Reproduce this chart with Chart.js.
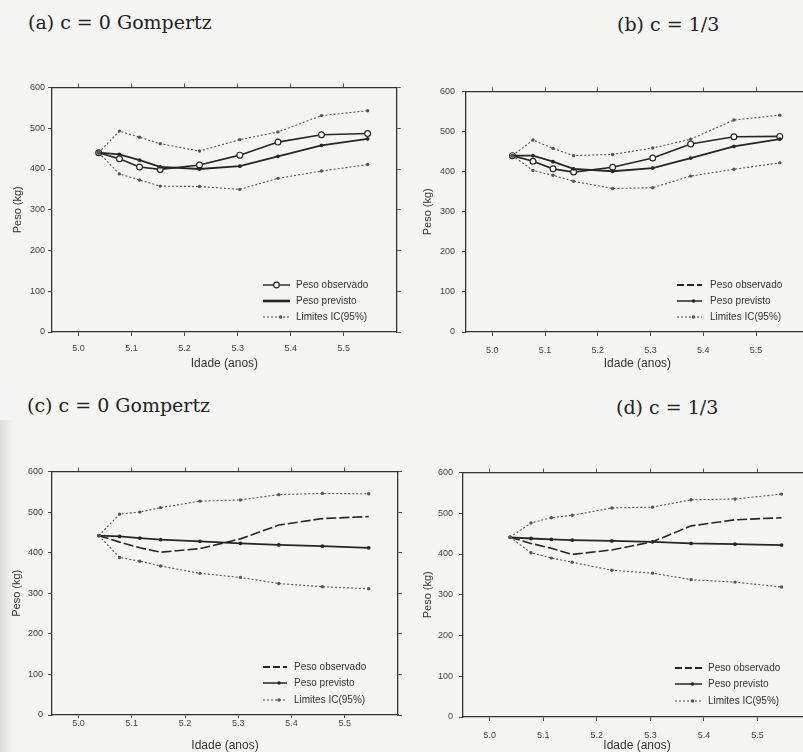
<!DOCTYPE html>
<html>
<head>
<meta charset="utf-8">
<script src="https://cdn.jsdelivr.net/npm/chart.js@4"></script>
<style>
  html, body { margin: 0; padding: 0; }
  body { width: 803px; height: 752px; overflow: hidden; position: relative; background: #f5f5f3; }
  .panel { position: absolute; }
  .ttl { position: absolute; font-family: "DejaVu Serif", serif; font-size: 19px; color: #222; white-space: nowrap; line-height: 1; }
  .shade { position: absolute; left: 0; top: 420px; width: 14px; height: 332px; background: linear-gradient(to right, #dcdcda, rgba(245,245,243,0)); }
</style>
</head>
<body>
<div class="shade"></div>
<div class="ttl" style="left:28px;top:13px">(a) c = 0 Gompertz</div>
<div class="ttl" style="left:617px;top:15px">(b) c = 1/3</div>
<div class="ttl" style="left:27px;top:396px">(c) c = 0 Gompertz</div>
<div class="ttl" style="left:616px;top:398px">(d) c = 1/3</div>

<div class="panel" style="left:0px;top:80px;width:402px;height:290px"><canvas id="ca"></canvas></div>
<div class="panel" style="left:415px;top:80px;width:399px;height:290px"><canvas id="cb"></canvas></div>
<div class="panel" style="left:0px;top:462px;width:402px;height:290px"><canvas id="cc"></canvas></div>
<div class="panel" style="left:412px;top:462px;width:403px;height:290px"><canvas id="cd"></canvas></div>

<script>
// ages (years) at each weighing
const ages = [5.038, 5.077, 5.115, 5.154, 5.228, 5.304, 5.376, 5.458, 5.545];
const xTicks = [5.0, 5.1, 5.2, 5.3, 5.4, 5.5];
const yTicks = [0, 100, 200, 300, 400, 500, 600];
const legendLabels = ['Peso observado', 'Peso previsto', 'Limites IC(95%)'];

// (a) c = 0 Gompertz
const obsA  = [440, 425, 405, 399, 410, 434, 466, 484, 487];
const predA = [440, 436, 422, 405, 400, 407, 431, 458, 474];
const upA   = [440, 493, 478, 462, 444, 472, 491, 531, 543];
const lowA  = [440, 388, 373, 358, 357, 350, 377, 395, 411];

// (b) c = 1/3
const obsB  = [440, 426, 407, 399, 411, 434, 469, 487, 488];
const predB = [440, 440, 425, 407, 401, 409, 434, 463, 481];
const upB   = [440, 479, 458, 440, 443, 459, 481, 529, 541];
const lowB  = [440, 403, 391, 376, 358, 360, 389, 406, 422];

// (c) c = 0 Gompertz
const obsC  = [442, 426, 412, 401, 410, 434, 468, 484, 489];
const predC = [442, 440, 436, 432, 428, 423, 419, 416, 412];
const upC   = [442, 495, 500, 511, 527, 530, 543, 546, 545];
const lowC  = [442, 388, 379, 367, 349, 339, 324, 316, 311];

// (d) c = 1/3
const obsD  = [441, 426, 414, 399, 410, 430, 469, 484, 489];
const predD = [441, 438, 436, 434, 432, 430, 426, 424, 422];
const upD   = [441, 476, 489, 495, 513, 515, 533, 535, 547];
const lowD  = [441, 403, 390, 380, 360, 353, 337, 331, 319];

const INK = '#262626';
const CI = '#555';
const FONT = '"Liberation Sans", Arial, sans-serif';

// legend drawn inside the plot area, bottom right
const boxLegend = {
  id: 'boxLegend',
  afterDraw(chart, args, o) {
    if (!o || !o.items) return;
    const ctx = chart.ctx;
    ctx.save();
    o.items.forEach((it, i) => {
      const y = o.rows[i];
      ctx.strokeStyle = it.color;
      ctx.lineWidth = it.width;
      ctx.setLineDash(it.dash || []);
      ctx.beginPath();
      ctx.moveTo(o.sx, y);
      ctx.lineTo(o.sx + o.sw, y);
      ctx.stroke();
      ctx.setLineDash([]);
      const mx = o.sx + o.sw / 2;
      if (it.marker === 'open') {
        ctx.fillStyle = '#fff';
        ctx.lineWidth = 1.2;
        ctx.beginPath(); ctx.arc(mx, y, 2.8, 0, Math.PI * 2); ctx.fill(); ctx.stroke();
      } else if (it.marker === 'dot') {
        ctx.fillStyle = it.color;
        ctx.beginPath(); ctx.arc(mx + 4, y, 1.8, 0, Math.PI * 2); ctx.fill();
      }
      ctx.fillStyle = '#333';
      ctx.font = '10px ' + FONT;
      ctx.textBaseline = 'middle';
      ctx.fillText(legendLabels[i], o.tx, y);
    });
    ctx.restore();
  }
};

function pts(vals) {
  return ages.map((a, i) => ({ x: a, y: vals[i] }));
}

function setTicks(vals) {
  return s => { s.ticks = vals.map(v => ({ value: v })); };
}

function makePanel(id, obs, pred, up, low, g) {
  const ciStyle = {
    borderColor: CI, backgroundColor: CI, borderWidth: 1.1, borderDash: [2, 2],
    pointRadius: 1.7, pointBorderWidth: 0, pointBackgroundColor: CI
  };
  const obsStyle = g.circles
    ? { borderColor: INK, borderWidth: 1.6, pointRadius: 2.9, pointBackgroundColor: '#fff', pointBorderColor: INK, pointBorderWidth: 1.2 }
    : { borderColor: INK, borderWidth: 1.6, borderDash: [10, 3], pointRadius: 0 };

  new Chart(document.getElementById(id), {
    type: 'line',
    data: {
      datasets: [
        Object.assign({ label: 'up', data: pts(up) }, ciStyle),
        Object.assign({ label: 'low', data: pts(low) }, ciStyle),
        { label: legendLabels[1], data: pts(pred), borderColor: INK, borderWidth: 1.8,
          pointRadius: 1.9, pointBorderWidth: 0, pointBackgroundColor: INK },
        Object.assign({ label: legendLabels[0], data: pts(obs) }, obsStyle)
      ]
    },
    options: {
      responsive: true,
      maintainAspectRatio: false,
      animation: false,
      layout: { padding: 0 },
      elements: { line: { tension: 0 } },
      plugins: {
        legend: { display: false },
        tooltip: { enabled: false },
        boxLegend: g.legend
      },
      scales: {
        x: {
          type: 'linear', position: 'bottom', min: 4.95, max: 5.6,
          afterBuildTicks: setTicks(xTicks),
          afterFit: s => { s.height = g.bottomH; },
          grid: { drawOnChartArea: false, tickLength: g.xTl, color: '#444' },
          border: { color: '#333', width: 1.3 },
          ticks: { padding: g.xPad, color: '#444', font: { size: 9, family: FONT }, maxRotation: 0, autoSkip: false,
                   callback: v => Number(v).toFixed(1) },
          title: { display: true, text: 'Idade (anos)', color: '#333', font: { size: 12, family: FONT, lineHeight: 1 },
                   padding: { top: g.xtPad, bottom: 0 } }
        },
        y: {
          type: 'linear', position: 'left', min: 0, max: 600,
          afterBuildTicks: setTicks(yTicks),
          afterFit: s => { s.width = g.yW; },
          grid: { drawOnChartArea: false, tickLength: 4, color: '#444' },
          border: { color: '#333', width: 1.3 },
          ticks: { padding: g.yPad, color: '#444', font: { size: 9, family: FONT, lineHeight: 1 } },
          title: { display: true, text: 'Peso (kg)', color: '#333', font: { size: 11, family: FONT, lineHeight: 1 },
                   padding: { top: g.ytPad, bottom: 0 } }
        },
        x2: {
          type: 'linear', position: 'top', min: 4.95, max: 5.6,
          afterBuildTicks: setTicks(xTicks),
          afterFit: s => { s.height = g.topH; },
          grid: { drawOnChartArea: false, tickLength: 4, color: '#555' },
          border: { color: '#333', width: 1.3 },
          ticks: { display: false }
        },
        y2: {
          type: 'linear', position: 'right', min: 0, max: 600,
          afterBuildTicks: setTicks(yTicks),
          afterFit: s => { s.width = g.rightW; },
          grid: { drawOnChartArea: false, tickLength: 4, color: '#555' },
          border: { color: '#333', width: 1.3 },
          ticks: { display: false }
        }
      }
    },
    plugins: [boxLegend]
  });
}

const legendTop = [
  { color: INK, width: 1.4, marker: 'open' },
  { color: INK, width: 2.6 },
  { color: CI, width: 1.1, dash: [2, 2], marker: 'dot' }
];
const legendBottom = [
  { color: INK, width: 2, dash: [7, 3] },
  { color: INK, width: 1.5, marker: 'dot' },
  { color: CI, width: 1.1, dash: [2, 2], marker: 'dot' }
];

makePanel('ca', obsA, predA, upA, lowA, {
  circles: true, yW: 52, topH: 5, rightW: 4, bottomH: 38,
  xTl: 4, xPad: 7, yPad: 3, ytPad: 12.5, xtPad: 2,
  legend: { sx: 263, sw: 27, tx: 296, rows: [205, 221, 237], items: legendTop }
});
makePanel('cb', obsB, predB, upB, lowB, {
  circles: true, yW: 51, topH: 7, rightW: 4, bottomH: 38,
  xTl: 4, xPad: 9, yPad: 7, ytPad: 7.5, xtPad: 1,
  legend: { sx: 262, sw: 25, tx: 295, rows: [205, 221, 237], items: legendBottom }
});
makePanel('cc', obsC, predC, upC, lowC, {
  circles: false, yW: 52, topH: 6, rightW: 4, bottomH: 37,
  xTl: 3, xPad: 0, yPad: 5, ytPad: 11.5, xtPad: 1,
  legend: { sx: 263, sw: 24, tx: 294, rows: [205, 221, 238], items: legendBottom }
});
makePanel('cd', obsD, predD, upD, lowD, {
  circles: false, yW: 51, topH: 8, rightW: 4, bottomH: 35,
  xTl: 4, xPad: 9, yPad: 6, ytPad: 10.5, xtPad: 0,
  legend: { sx: 263, sw: 27, tx: 296, rows: [206, 222, 239], items: legendBottom }
});
</script>
</body>
</html>
